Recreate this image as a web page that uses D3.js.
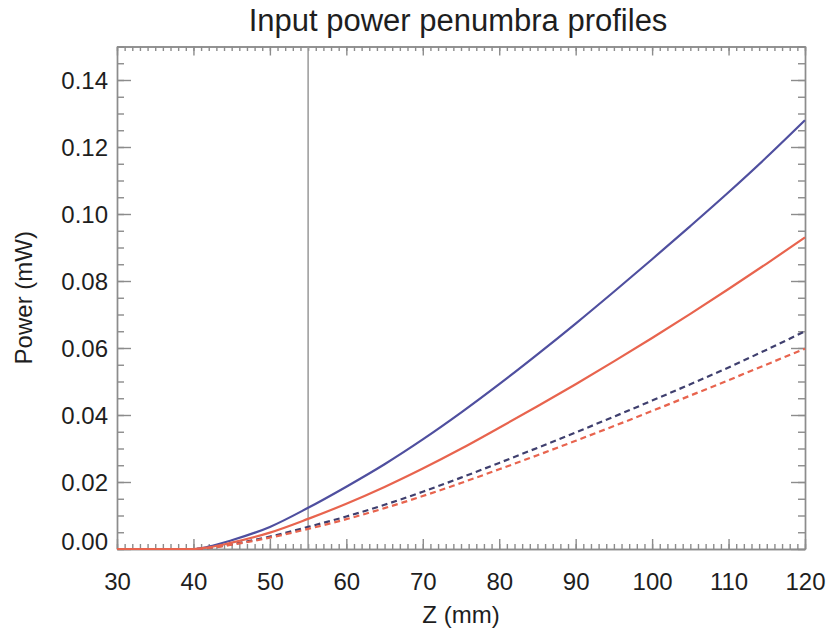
<!DOCTYPE html>
<html>
<head>
<meta charset="utf-8">
<script src="https://cdn.jsdelivr.net/npm/d3@7"></script>
<style>
  html, body { margin: 0; padding: 0; background: #fff; }
  svg { display: block; font-family: "Liberation Sans", Arial, Helvetica, sans-serif; }
  .axis path, .axis line { stroke: #8c8c8c; stroke-width: 1.4; }
  .axis text { font-size: 24px; fill: #1e1e1e; }
  .axis-label { font-size: 24px; fill: #1e1e1e; }
</style>
</head>
<body>
<svg id="chart" width="827" height="631"></svg>
<script>
// Z positions (mm) and the four penumbra power profiles (mW)
const zValues = [30, 35, 40, 42, 45, 50, 55, 60, 65, 70, 75, 80, 85, 90, 95, 100, 105, 110, 115, 120];
const blueSolid = [0, 0, 0, 0.0007, 0.0026, 0.0066, 0.0123, 0.0186, 0.0253, 0.0327, 0.0407, 0.0492, 0.0581, 0.0673, 0.0768, 0.0865, 0.0964, 0.1065, 0.117, 0.128];
const redSolid  = [0, 0, 0, 0.0005, 0.0019, 0.0049, 0.009, 0.0135, 0.0185, 0.024, 0.0299, 0.0362, 0.0426, 0.0492, 0.056, 0.063, 0.0702, 0.0776, 0.0852, 0.093];
const blueDash  = [0, 0, 0, 0.0003, 0.0014, 0.0037, 0.0066, 0.0097, 0.0132, 0.0171, 0.0213, 0.0257, 0.0302, 0.0348, 0.0395, 0.0443, 0.0492, 0.0542, 0.0595, 0.065];
const redDash   = [0, 0, 0, 0.0003, 0.0013, 0.0034, 0.006, 0.0089, 0.0122, 0.0158, 0.0197, 0.0238, 0.028, 0.0323, 0.0367, 0.0412, 0.0458, 0.0504, 0.0551, 0.0598];

const markerZ = 55;
const xTicks = [30, 40, 50, 60, 70, 80, 90, 100, 110, 120];
const yTicks = [0, 0.02, 0.04, 0.06, 0.08, 0.10, 0.12, 0.14];

const svgEl = d3.select("#chart");
const viewW = 827, viewH = 631;
const margin = { top: 46.5, right: 22, bottom: 82, left: 117 };
const innerW = viewW - margin.left - margin.right;
const innerH = viewH - margin.top - margin.bottom;

const g = svgEl.append("g")
  .attr("transform", `translate(${margin.left},${margin.top})`);

/* ---------- Scales ---------- */
const xScale = d3.scaleLinear().domain([30, 120]).range([0, innerW]);
const yScale = d3.scaleLinear().domain([0, 0.15]).range([innerH, 0]);

const xMinor = d3.range(30, 121, 1);
const yMinor = d3.range(0, 0.1501, 0.005);

/* ---------- Axes: IDL style box with inward ticks on all four sides ---------- */
g.append("g").attr("class", "axis")
  .attr("transform", `translate(0,${innerH})`)
  .call(d3.axisBottom(xScale).tickValues(xMinor).tickSize(-5).tickSizeOuter(0).tickFormat(""));
g.append("g").attr("class", "axis x-axis")
  .attr("transform", `translate(0,${innerH})`)
  .call(d3.axisBottom(xScale).tickValues(xTicks).tickSize(-10).tickSizeOuter(0).tickPadding(24).tickFormat(d3.format("d")));

g.append("g").attr("class", "axis")
  .call(d3.axisTop(xScale).tickValues(xMinor).tickSize(-4.5).tickSizeOuter(0).tickFormat(""));
g.append("g").attr("class", "axis")
  .call(d3.axisTop(xScale).tickValues(xTicks).tickSize(-9).tickSizeOuter(0).tickFormat(""));

g.append("g").attr("class", "axis")
  .call(d3.axisLeft(yScale).tickValues(yMinor).tickSize(-7).tickSizeOuter(0).tickFormat(""));
const yAxisG = g.append("g").attr("class", "axis y-axis")
  .call(d3.axisLeft(yScale).tickValues(yTicks).tickSize(-14).tickSizeOuter(0).tickPadding(9).tickFormat(d3.format(".2f")));

g.append("g").attr("class", "axis")
  .attr("transform", `translate(${innerW},0)`)
  .call(d3.axisRight(yScale).tickValues(yMinor).tickSize(-7).tickSizeOuter(0).tickFormat(""));
g.append("g").attr("class", "axis")
  .attr("transform", `translate(${innerW},0)`)
  .call(d3.axisRight(yScale).tickValues(yTicks).tickSize(-14).tickSizeOuter(0).tickFormat(""));

g.selectAll(".x-axis text").attr("dy", "0.71em");
g.selectAll(".y-axis text").attr("dy", "0.37em");
// IDL lifts the zero label so it clears the x labels
yAxisG.selectAll(".tick").filter(d => d === 0).select("text").attr("dy", "0.02em");

/* ---------- Marker line ---------- */
g.append("line")
  .attr("x1", xScale(markerZ)).attr("x2", xScale(markerZ))
  .attr("y1", 0).attr("y2", innerH)
  .attr("stroke", "#999").attr("stroke-width", 1.5);

/* ---------- Profiles ---------- */
const lineGen = d3.line()
  .x(d => xScale(d.z))
  .y(d => yScale(d.p))
  .curve(d3.curveMonotoneX);

const series = [
  { values: blueDash, color: "#3f3f6e", dash: "6,4" },
  { values: redDash, color: "#e8644e", dash: "6,4" },
  { values: blueSolid, color: "#4f4f9f", dash: null },
  { values: redSolid, color: "#e8644e", dash: null }
];

series.forEach(s => {
  g.append("path")
    .datum(zValues.map((z, i) => ({ z: z, p: s.values[i] })))
    .attr("d", lineGen)
    .attr("fill", "none")
    .attr("stroke", s.color)
    .attr("stroke-width", 2.2)
    .attr("stroke-dasharray", s.dash);
});

/* ---------- Titles ---------- */
svgEl.append("text")
  .attr("x", margin.left + innerW / 2 - 3).attr("y", 31)
  .attr("text-anchor", "middle")
  .style("font-size", "31px").style("fill", "#1e1e1e")
  .text("Input power penumbra profiles");

svgEl.append("text").attr("class", "axis-label")
  .attr("x", margin.left + innerW / 2).attr("y", 623)
  .attr("text-anchor", "middle")
  .text("Z (mm)");

svgEl.append("text").attr("class", "axis-label")
  .attr("transform", "rotate(-90)")
  .attr("x", -(margin.top + innerH / 2)).attr("y", 32)
  .attr("text-anchor", "middle")
  .text("Power (mW)");
</script>
</body>
</html>
